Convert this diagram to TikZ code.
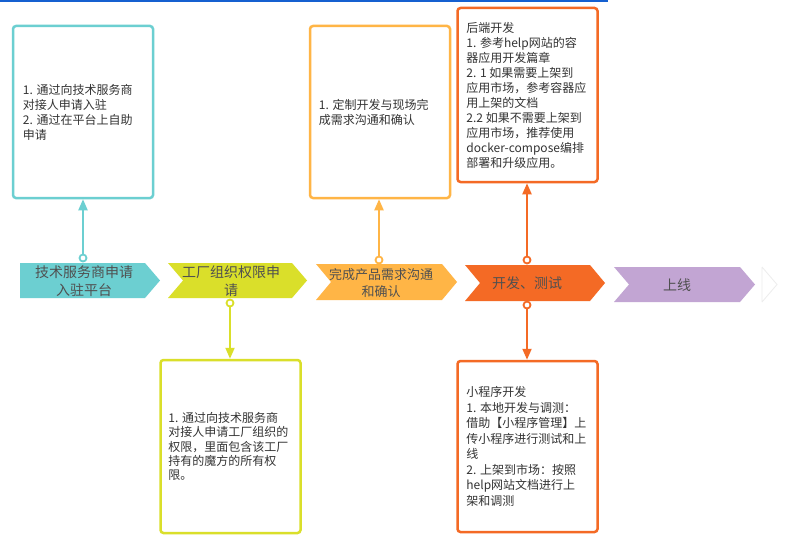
\documentclass[tikz,border=0pt]{standalone}
\usepackage{fontspec}
\setmainfont{Noto Sans CJK SC}
\usetikzlibrary{arrows.meta}
\definecolor{cteal}{HTML}{6CCFD1}
\definecolor{cyel}{HTML}{DADF2A}
\definecolor{corg}{HTML}{FFB546}
\definecolor{cred}{HTML}{F46A25}
\definecolor{cpur}{HTML}{C2A5D3}
\definecolor{cblue}{HTML}{1560D0}
\definecolor{ctxt}{HTML}{333333}
\definecolor{cchev}{HTML}{505050}
\tikzset{
  notebox/.style={draw=#1, line width=2.5pt, rounded corners=3pt, fill=white,
    minimum width=140pt, inner sep=0pt},
  notetext/.style={anchor=west, align=left, inner sep=0pt, text=ctxt,
    font=\fontsize{12}{15}\selectfont},
  chevtext/.style={text=cchev, align=center, font=\fontsize{14}{18}\selectfont, inner sep=0pt},
  pin/.style={circle, draw=#1, fill=white, line width=1.8pt, minimum size=7pt, inner sep=0pt},
  link/.style={draw=#1, line width=2pt, -{Triangle[width=9pt,length=11pt]}},
}
\begin{document}
\begin{tikzpicture}[x=1pt, y=-1pt]
\path[use as bounding box, fill=white] (0,0) rectangle (791,551);
% top rule
\draw[cblue, line width=1.6pt] (0,0.8) -- (608,0.8);

% process chevrons
\fill[cteal] (20,263) -- (145,263) -- (160,280.5) -- (145,298) -- (20,298) -- cycle;
\fill[cyel] (168,263) -- (292,263) -- (307,280.5) -- (292,298) -- (168,298) -- (183,280.5) -- cycle;
\fill[corg] (316,264) -- (442,264) -- (457,282) -- (442,300) -- (316,300) -- (331,282) -- cycle;
\fill[cred] (465,265) -- (590,265) -- (605,283) -- (590,301) -- (465,301) -- (480,283) -- cycle;
\fill[cpur] (614,267) -- (740,267) -- (755,284.5) -- (740,302) -- (614,302) -- (629,284.5) -- cycle;
\draw[black!7, line width=0.8pt] (762,267) -- (762,302) (762,267) -- (777,284.5) -- (762,302);

\node[chevtext] (s1) at (84,281) {技术服务商申请\\入驻平台};
\node[chevtext] (s2) at (231,281) {工厂组织权限申\\请};
\node[chevtext, font=\fontsize{13}{17}\selectfont] (s3) at (381,283) {完成产品需求沟通\\和确认};
\node[chevtext] (s4) at (527,283) {开发、测试};
\node[chevtext] (s5) at (677,285) {上线};

% note boxes
\node[notebox=cteal, minimum height=172pt] (b1) at (83,112) {};
\node[notebox=corg, minimum height=172pt] (b3) at (380,112) {};
\node[notebox=cred, minimum height=174pt] (b4) at (527.5,95) {};
\node[notebox=cyel, minimum height=173pt] (b2) at (230.5,446.5) {};
\node[notebox=cred, minimum height=171pt] (b5) at (527.5,446.5) {};

% note texts
\node[notetext] (t1) at ([xshift=11pt]b1.west)
  {1. 通过向技术服务商\\对接人申请入驻\\2. 通过在平台上自助\\申请};
\node[notetext] (t3) at ([xshift=10pt]b3.west)
  {1. 定制开发与现场完\\成需求沟通和确认};
\node[notetext] (t4) at ([xshift=10pt]b4.west)
  {后端开发\\1. 参考help网站的容\\器应用开发篇章\\2. 1 如果需要上架到\\应用市场，参考容器应\\用上架的文档\\2.2 如果不需要上架到\\应用市场，推荐使用\\docker-compose编排\\部署和升级应用。};
\node[notetext, font=\fontsize{12}{14.3}\selectfont] (t2) at ([xshift=9pt]b2.west)
  {1. 通过向技术服务商\\对接人申请工厂组织的\\权限，里面包含该工厂\\持有的魔方的所有权\\限。};
\node[notetext, font=\fontsize{12}{15.5}\selectfont] (t5) at ([xshift=10pt]b5.west)
  {小程序开发\\1. 本地开发与调测：\\借助【小程序管理】上\\传小程序进行测试和上\\线\\2. 上架到市场：按照\\help网站文档进行上\\架和调测};

% connectors
\node[pin=cteal] (p1) at (83,258) {};
\node[pin=cyel] (p2) at (230,303) {};
\node[pin=corg] (p3) at (379,260) {};
\node[pin=cred] (p4) at (527,260) {};
\node[pin=cred] (p5) at (527,305) {};
\draw[link=cteal] (p1) -- (p1 |- b1.south);
\draw[link=cyel] (p2) -- (p2 |- b2.north);
\draw[link=corg] (p3) -- (p3 |- b3.south);
\draw[link=cred] (p4) -- (p4 |- b4.south);
\draw[link=cred] (p5) -- (p5 |- b5.north);
\end{tikzpicture}
\end{document}
